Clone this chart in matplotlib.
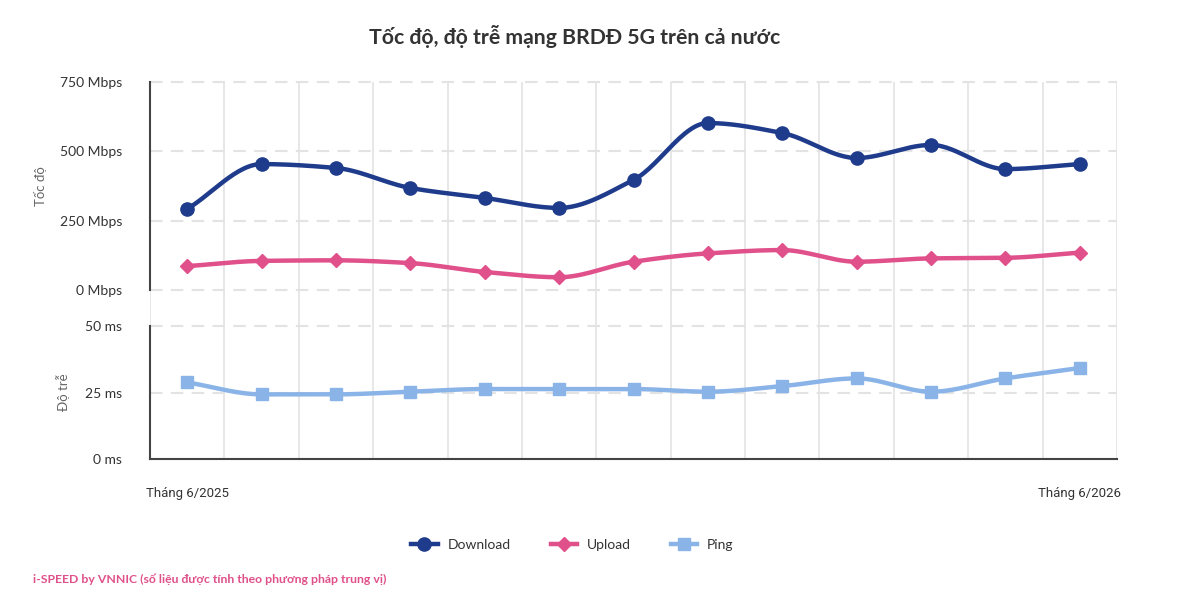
import numpy as np
import matplotlib.pyplot as plt
from matplotlib.lines import Line2D

# data
months = ["Tháng 6/2025", "", "", "", "", "", "", "", "", "", "", "", "Tháng 6/2026"]
download = [292, 454, 440, 368, 332, 296, 397, 602, 566, 476, 523, 436, 454]
upload = [86, 105, 107, 97, 65, 46, 102, 132, 144, 102, 114, 116, 135]
ping = [28.8, 24.3, 24.3, 25.3, 26.3, 26.3, 26.3, 25.3, 27.4, 30.3, 25.3, 30.3, 34.2]

speed_ticks = [0, 250, 500, 750]
ping_ticks = [0, 25, 50]

C_DL = "#1f3b8b"
C_UL = "#e0508a"
C_PING = "#8ab4e8"
GRID = "#e3e3e3"
TXT = "#333333"

plt.rcParams['font.family'] = ['Lato', 'DejaVu Sans']


def smooth(y, n=30):
    # monotone cubic (Fritsch-Carlson) through the points, just for drawing
    y = np.asarray(y, float)
    d = np.diff(y)
    m = np.zeros_like(y)
    m[0], m[-1] = d[0], d[-1]
    for i in range(1, len(y) - 1):
        if d[i - 1] * d[i] > 0:
            m[i] = 2 / (1 / d[i - 1] + 1 / d[i])
    xs, ys = [], []
    s = np.linspace(0, 1, n)
    h00 = 2 * s**3 - 3 * s**2 + 1
    h10 = s**3 - 2 * s**2 + s
    h01 = -2 * s**3 + 3 * s**2
    h11 = s**3 - s**2
    for i in range(len(y) - 1):
        xs.append(i + s)
        ys.append(h00 * y[i] + h10 * m[i] + h01 * y[i + 1] + h11 * m[i + 1])
    return np.concatenate(xs), np.concatenate(ys)


fig = plt.figure(figsize=(12, 6.09), dpi=100)
W, H = 1200, 609
L, R = 150, 1117
x = np.arange(len(download))
xlim = (-0.5, len(download) - 0.5)


def rect(top, bottom):
    return [L / W, 1 - bottom / H, (R - L) / W, (bottom - top) / H]


# background axes for the vertical grid through both panels
bg = fig.add_axes(rect(82, 459), zorder=0)
bg.set_xlim(xlim)
for v in np.arange(-0.5, len(download), 1.0):
    bg.axvline(v, color=GRID, lw=1.2)
bg.axis("off")

ax1 = fig.add_axes(rect(82, 290), zorder=2)
ax2 = fig.add_axes(rect(326, 459), zorder=2)

for ax in (ax1, ax2):
    ax.set_facecolor("none")
    ax.set_xlim(xlim)
    for s in ("top", "right"):
        ax.spines[s].set_visible(False)
    ax.spines["left"].set_color("#444444")
    ax.spines["left"].set_linewidth(1.5)
    ax.tick_params(axis="y", length=0, labelsize=10, labelcolor=TXT, pad=20)
    ax.tick_params(axis="x", length=0)
    ax.set_xticks([])

ax1.spines["bottom"].set_visible(False)
ax2.spines["bottom"].set_color("#444444")
ax2.spines["bottom"].set_linewidth(1.5)

ax1.set_ylim(0, 750)
ax1.set_yticks(speed_ticks)
ax1.set_yticklabels([f"{v} Mbps" for v in speed_ticks])
ax2.set_ylim(0, 50)
ax2.set_yticks(ping_ticks)
ax2.set_yticklabels([f"{v} ms" for v in ping_ticks])

for ax, ticks in ((ax1, speed_ticks), (ax2, ping_ticks)):
    for v in ticks:
        ax.axhline(v, color=GRID, lw=1.5, ls=(0, (6, 4)), zorder=1, clip_on=False)

# series
sx, sy = smooth(download)
ax1.plot(sx, sy, color=C_DL, lw=3.2, zorder=3, solid_capstyle="round")
ax1.plot(x, download, "o", color=C_DL, ms=9.5, zorder=4, clip_on=False)
sx, sy = smooth(upload)
ax1.plot(sx, sy, color=C_UL, lw=3.2, zorder=3, solid_capstyle="round")
ax1.plot(x, upload, "D", color=C_UL, ms=7, zorder=4, clip_on=False)
sx, sy = smooth(ping)
ax2.plot(sx, sy, color=C_PING, lw=3.2, zorder=3, solid_capstyle="round")
ax2.plot(x, ping, "s", color=C_PING, ms=9, zorder=4, clip_on=False)

ax1.set_ylabel("Tốc độ", fontsize=9.5, color="#666666")
ax2.set_ylabel("Độ trễ", fontsize=9.5, color="#666666")
ax1.yaxis.set_label_coords(-0.106, 0.5)
ax2.yaxis.set_label_coords(-0.083, 0.5)

# x labels at first and last month
for i, m in enumerate(months):
    if m:
        ax2.text(i, -0.26, m, transform=ax2.get_xaxis_transform(), ha="center",
                 va="center", fontsize=9.5, color=TXT, family=["Roboto", "DejaVu Sans"],
                 stretch="condensed")

fig.text(0.479, 1 - 36 / H, "Tốc độ, độ trễ mạng BRDĐ 5G trên cả nước", ha="center",
         va="center", fontsize=15.3, fontweight="bold", color=TXT)

handles = [
    Line2D([], [], color=C_DL, lw=3.2, marker="o", ms=9.5, label="Download"),
    Line2D([], [], color=C_UL, lw=3.2, marker="D", ms=7, label="Upload"),
    Line2D([], [], color=C_PING, lw=3.2, marker="s", ms=9, label="Ping"),
]
fig.legend(handles=handles, loc="center", bbox_to_anchor=(0.477, 1 - 545 / H), ncol=3,
           frameon=False, fontsize=10, handlelength=1.9, columnspacing=2.9,
           handletextpad=0.7, labelcolor=TXT)

fig.text(33 / W, 1 - 579 / H, "i-SPEED by VNNIC (số liệu được tính theo phương pháp trung vị)",
         ha="left", va="center", fontsize=8.8, fontweight="bold", color=C_UL)

fig.savefig("out.png", dpi=100, facecolor="white")
